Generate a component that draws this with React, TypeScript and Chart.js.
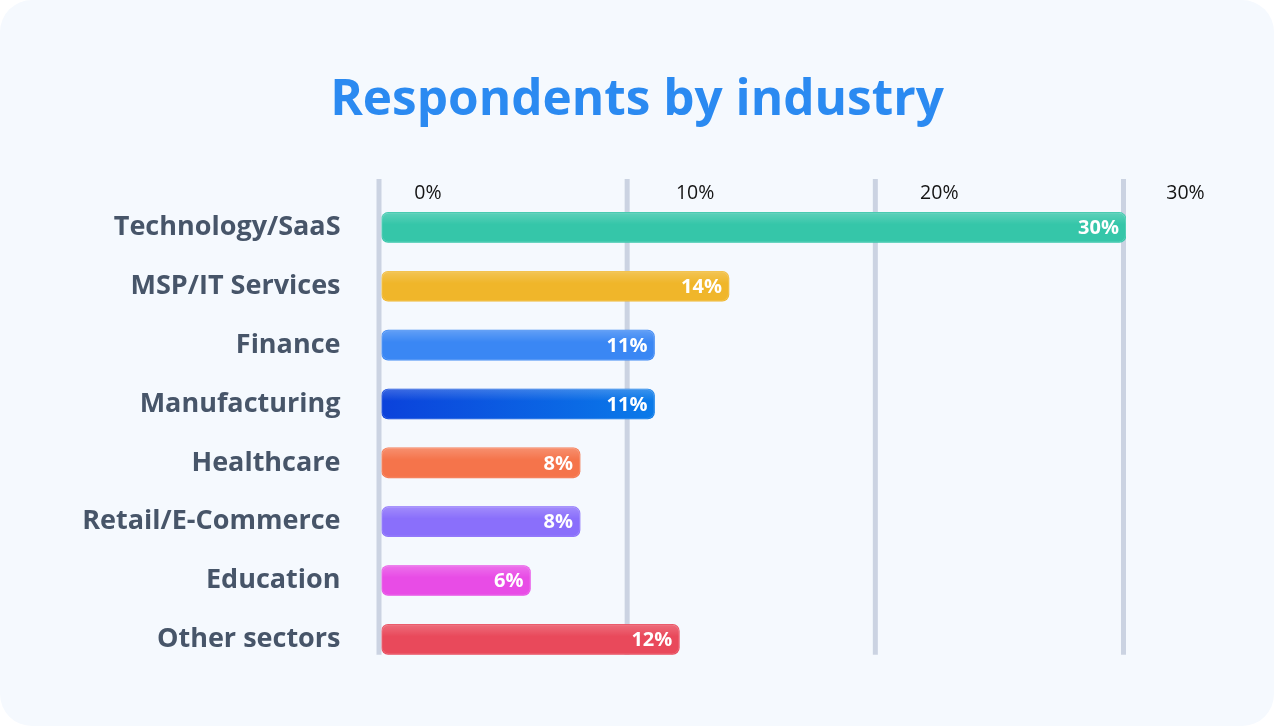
import React, { useEffect, useRef } from "react";
import { Chart, registerables } from "chart.js";

Chart.register(...registerables);

// Industry categories and their share of respondents (%)
const industries = [
  "Technology/SaaS",
  "MSP/IT Services",
  "Finance",
  "Manufacturing",
  "Healthcare",
  "Retail/E-Commerce",
  "Education",
  "Other sectors",
];
const shares = [30, 14, 11, 11, 8, 8, 6, 12];

// Axis ticks shown across the top
const tickValues = [0, 10, 20, 30];
const tickLabels = ["0%", "10%", "20%", "30%"];
const tickLabelShift = [49, 68, 64, 62];

// Bar fills; a pair means a left-to-right gradient
const barColors: (string | [string, string])[] = [
  "#35c6a9",
  "#f0b62a",
  "#3a87f4",
  ["#0b42db", "#0a7ae9"],
  "#f5744b",
  "#8a6ffb",
  "#e84ce6",
  "#e9495b",
];

const FONT = "'Open Sans', 'Noto Sans', sans-serif";

const gridPlugin = {
  id: "topGrid",
  beforeDatasetsDraw(chart: any) {
    const { ctx, chartArea, scales } = chart;
    const x = scales.x;
    const top = chartArea.top - 19;
    const bottom = chartArea.bottom - 14;
    ctx.save();
    ctx.strokeStyle = "#cbd3e2";
    ctx.lineWidth = 5;
    tickValues.forEach((v) => {
      const px = x.getPixelForValue(v) - 2.5;
      ctx.beginPath();
      ctx.moveTo(px, top);
      ctx.lineTo(px, bottom);
      ctx.stroke();
    });
    ctx.fillStyle = "#141414";
    ctx.font = `400 19.5px ${FONT}`;
    ctx.textAlign = "center";
    ctx.textBaseline = "middle";
    tickValues.forEach((v, i) => {
      const px = x.getPixelForValue(v) - 2.5 + tickLabelShift[i];
      ctx.fillText(tickLabels[i], px, chartArea.top - 5);
    });
    ctx.restore();
  },
};

const barFinishPlugin = {
  id: "barFinish",
  afterDatasetsDraw(chart: any) {
    const { ctx } = chart;
    const meta = chart.getDatasetMeta(0);
    ctx.save();
    meta.data.forEach((bar: any, i: number) => {
      const { x, y, base, height } = bar.getProps(["x", "y", "base", "height"], true);
      const left = Math.min(x, base);
      const right = Math.max(x, base);
      const top = y - height / 2;
      // soft highlight across the upper part of each bar
      ctx.save();
      ctx.beginPath();
      ctx.roundRect(left, top, right - left, height, 7);
      ctx.clip();
      const g = ctx.createLinearGradient(0, top, 0, top + height);
      g.addColorStop(0, "rgba(255,255,255,0.2)");
      g.addColorStop(0.4, "rgba(255,255,255,0)");
      g.addColorStop(1, "rgba(255,255,255,0)");
      ctx.fillStyle = g;
      ctx.fillRect(left, top, right - left, height);
      ctx.strokeStyle = "rgba(255,255,255,0.15)";
      ctx.lineWidth = 1;
      ctx.beginPath();
      ctx.roundRect(left + 0.5, top + 0.5, right - left - 1, height - 1, 7);
      ctx.stroke();
      ctx.restore();

      // value label inside the bar end
      ctx.fillStyle = "#ffffff";
      ctx.font = `700 20px ${FONT}`;
      ctx.textAlign = "right";
      ctx.textBaseline = "middle";
      ctx.fillText(`${shares[i]}%`, right - 7, y + 1);
    });
    ctx.restore();
  },
};

export default function App() {
  const canvasRef = useRef<HTMLCanvasElement | null>(null);

  useEffect(() => {
    const canvas = canvasRef.current;
    if (!canvas) return;
    const chart = new Chart(canvas, {
      type: "bar",
      data: {
        labels: industries,
        datasets: [
          {
            data: shares,
            backgroundColor: (c: any) => {
              const spec = barColors[c.dataIndex];
              if (typeof spec === "string") return spec;
              const ch = c.chart;
              if (!ch.chartArea) return spec[0];
              const xs = ch.scales.x;
              const g = ch.ctx.createLinearGradient(
                xs.getPixelForValue(0),
                0,
                xs.getPixelForValue(shares[c.dataIndex]),
                0
              );
              g.addColorStop(0, spec[0]);
              g.addColorStop(1, spec[1]);
              return g;
            },
            borderRadius: 7,
            borderSkipped: false,
            barThickness: 30,
          },
        ],
      },
      options: {
        indexAxis: "y",
        responsive: false,
        animation: false,
        devicePixelRatio: 1,
        layout: { padding: { top: 198, bottom: 57, left: 0, right: 148 } },
        plugins: {
          legend: { display: false },
          tooltip: { enabled: false },
          title: { display: false },
        },
        scales: {
          x: { type: "linear", min: 0, max: 30, display: false },
          y: {
            type: "category",
            position: "left",
            grid: { display: false, drawTicks: false },
            border: { display: false },
            ticks: {
              padding: 41,
              color: "#475569",
              font: { family: FONT, size: 27, weight: "bold" },
            },
            afterFit(scale: any) {
              scale.width = 381.5;
            },
          },
        },
      },
      plugins: [gridPlugin, barFinishPlugin],
    });
    return () => chart.destroy();
  }, []);

  return (
    <div
      style={{
        position: "fixed",
        left: 0,
        top: 0,
        width: 1274,
        height: 726,
        background: "#ffffff",
      }}
    >
      <div
        style={{
          position: "absolute",
          inset: 0,
          borderRadius: 32,
          background: "#f5f9fe",
        }}
      />
      <div
        style={{
          position: "absolute",
          left: 0,
          top: 71,
          width: 1274,
          textAlign: "center",
          fontFamily: FONT,
          fontWeight: 700,
          fontSize: 49.5,
          lineHeight: "50px",
          color: "#2b8af1",
        }}
      >
        Respondents by industry
      </div>
      <canvas
        ref={canvasRef}
        width={1274}
        height={726}
        style={{ position: "absolute", left: 0, top: 0, width: 1274, height: 726 }}
      />
    </div>
  );
}
